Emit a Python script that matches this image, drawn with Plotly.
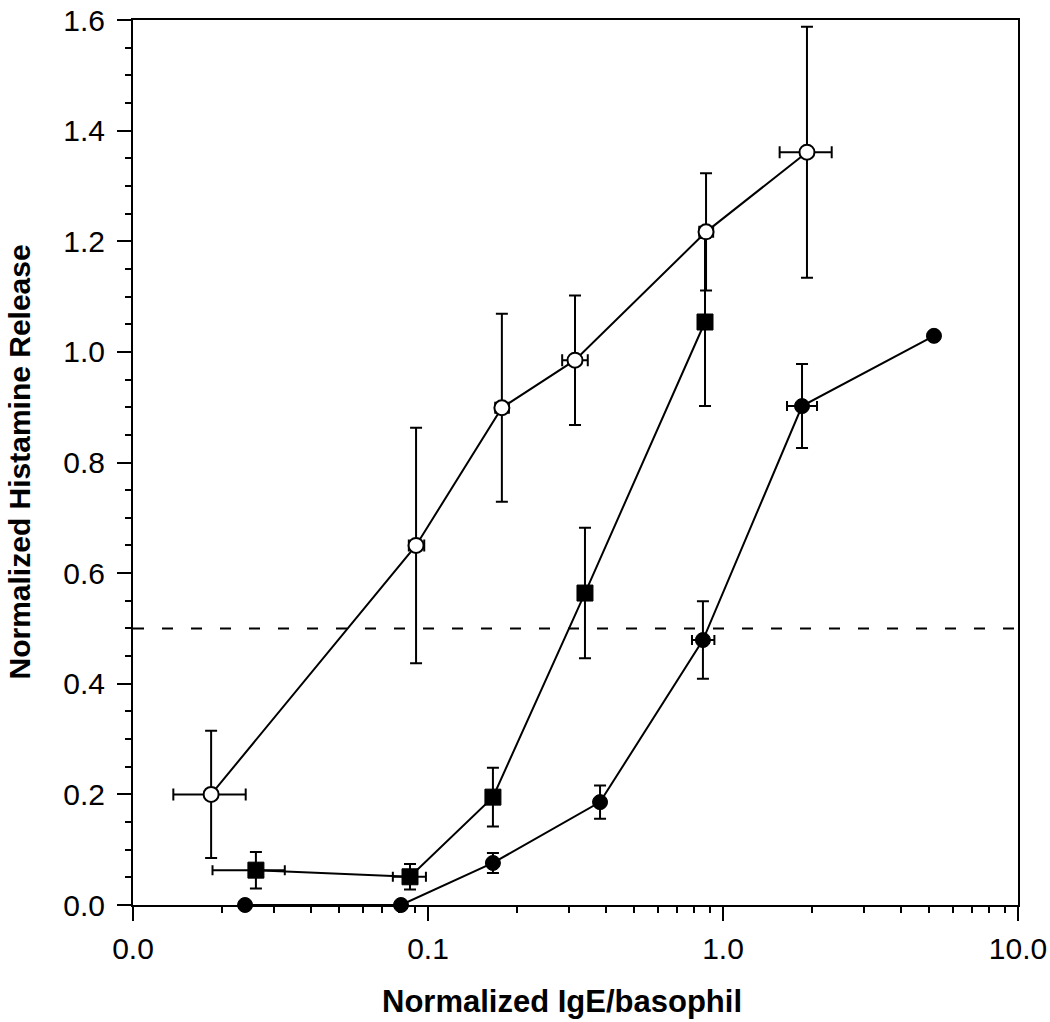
import plotly.graph_objects as go

# Open circles series
oc_x = [0.0184, 0.0911, 0.178, 0.315, 0.876, 1.926]
oc_y = [0.200, 0.650, 0.899, 0.985, 1.217, 1.361]
oc_ey = [0.115, 0.213, 0.170, 0.117, 0.106, 0.227]
oc_ex_plus = [0.0057, 0.006, 0.010, 0.033, 0.05, 0.41]
oc_ex_minus = [0.0047, 0.005, 0.009, 0.030, 0.045, 0.37]

# Filled squares series
sq_x = [0.0261, 0.0869, 0.166, 0.3405, 0.869]
sq_y = [0.063, 0.051, 0.195, 0.564, 1.054]
sq_ey = [0.033, 0.023, 0.053, 0.118, 0.152]
sq_ex_plus = [0.0066, 0.0115, 0.004, 0.012, 0.03]
sq_ex_minus = [0.0075, 0.0109, 0.004, 0.012, 0.03]

# Filled circles series
fc_x = [0.02398, 0.081, 0.166, 0.383, 0.855, 1.853, 5.19]
fc_y = [0.000, 0.000, 0.076, 0.186, 0.479, 0.902, 1.029]
fc_ey = [0, 0, 0.018, 0.030, 0.070, 0.076, 0]
fc_ex_plus = [0, 0, 0, 0, 0.08, 0.23, 0]
fc_ex_minus = [0, 0, 0, 0, 0.07, 0.205, 0]

x_tickvals = [0.01, 0.1, 1, 10]
x_ticktext = ["0.0", "0.1", "1.0", "10.0"]
y_tickvals = [0.0, 0.2, 0.4, 0.6, 0.8, 1.0, 1.2, 1.4, 1.6]
y_ticktext = ["0.0", "0.2", "0.4", "0.6", "0.8", "1.0", "1.2", "1.4", "1.6"]
threshold = 0.5
x_title = "Normalized IgE/basophil"
y_title = "Normalized Histamine Release"

x_minor = [m * d for d in [0.01, 0.1, 1] for m in range(2, 10)]
y_minor = [i * 0.05 for i in range(33) if i % 4 != 0]

FONT = "Liberation Sans, Arial, Helvetica, sans-serif"
LW = 2


def err(plus, minus=None, w=6):
    d = dict(type="data", array=plus, color="black", thickness=LW, width=w, visible=True)
    if minus is not None:
        d["symmetric"] = False
        d["arrayminus"] = minus
    return d


fig = go.Figure()

fig.add_trace(go.Scatter(
    x=fc_x, y=fc_y, mode="lines+markers",
    line=dict(color="black", width=LW),
    marker=dict(symbol="circle", size=15, color="black", line=dict(color="black", width=1)),
    error_y=err(fc_ey, None, 6),
    error_x=err(fc_ex_plus, fc_ex_minus, 5),
    cliponaxis=False,
))
fig.add_trace(go.Scatter(
    x=sq_x, y=sq_y, mode="lines+markers",
    line=dict(color="black", width=LW),
    marker=dict(symbol="square", size=16, color="black", line=dict(color="black", width=1)),
    error_y=err(sq_ey, None, 6),
    error_x=err(sq_ex_plus, sq_ex_minus, 5),
    cliponaxis=False,
))
fig.add_trace(go.Scatter(
    x=oc_x, y=oc_y, mode="lines+markers",
    line=dict(color="black", width=LW),
    marker=dict(symbol="circle", size=15, color="white", line=dict(color="black", width=2)),
    error_y=err(oc_ey, None, 6),
    error_x=err(oc_ex_plus, oc_ex_minus, 6),
    cliponaxis=False,
))

fig.add_shape(type="line", xref="paper", yref="y", x0=0, x1=1, y0=threshold, y1=threshold,
              line=dict(color="black", width=2, dash="11px,18px"), layer="below")

fig.update_layout(
    width=1050, height=1022,
    margin=dict(l=133, r=32, t=20, b=117, autoexpand=False),
    paper_bgcolor="white", plot_bgcolor="white",
    showlegend=False,
    font=dict(family=FONT, color="black"),
)

fig.update_xaxes(
    type="log", range=[-2, 1], automargin=False,
    tickvals=x_tickvals, ticktext=x_ticktext,
    ticks="outside", ticklen=14, tickwidth=2, tickcolor="black",
    ticklabelstandoff=2, ticklabeloverflow="allow",
    minor=dict(tickvals=x_minor, ticks="outside", ticklen=6, tickwidth=2, tickcolor="black", showgrid=False),
    showline=True, linecolor="black", linewidth=2, mirror=True,
    showgrid=False, zeroline=False,
    tickfont=dict(size=30, family=FONT),
)
fig.update_yaxes(
    range=[0, 1.6], automargin=False,
    tickvals=y_tickvals, ticktext=y_ticktext,
    ticks="outside", ticklen=14, tickwidth=2, tickcolor="black",
    ticklabelstandoff=6, ticklabeloverflow="allow",
    minor=dict(tickvals=y_minor, ticks="outside", ticklen=6, tickwidth=2, tickcolor="black", showgrid=False),
    showline=True, linecolor="black", linewidth=2, mirror=True,
    showgrid=False, zeroline=False,
    tickfont=dict(size=30, family=FONT),
)

fig.add_annotation(text="<b>" + x_title + "</b>", xref="paper", yref="paper", x=0.5, y=0,
                   xshift=-14, yshift=-96, xanchor="center", yanchor="middle",
                   showarrow=False, font=dict(size=31, family=FONT, color="black"))
fig.add_annotation(text="<b>" + y_title + "</b>", xref="paper", yref="paper", x=0, y=0.5,
                   xshift=-114, xanchor="center", yanchor="middle", textangle=-90,
                   showarrow=False, font=dict(size=30, family=FONT, color="black"))

fig.write_html("out.html",
               config={"displayModeBar": False},
               post_script="document.body.style.margin='0';document.body.style.overflow='hidden';")
